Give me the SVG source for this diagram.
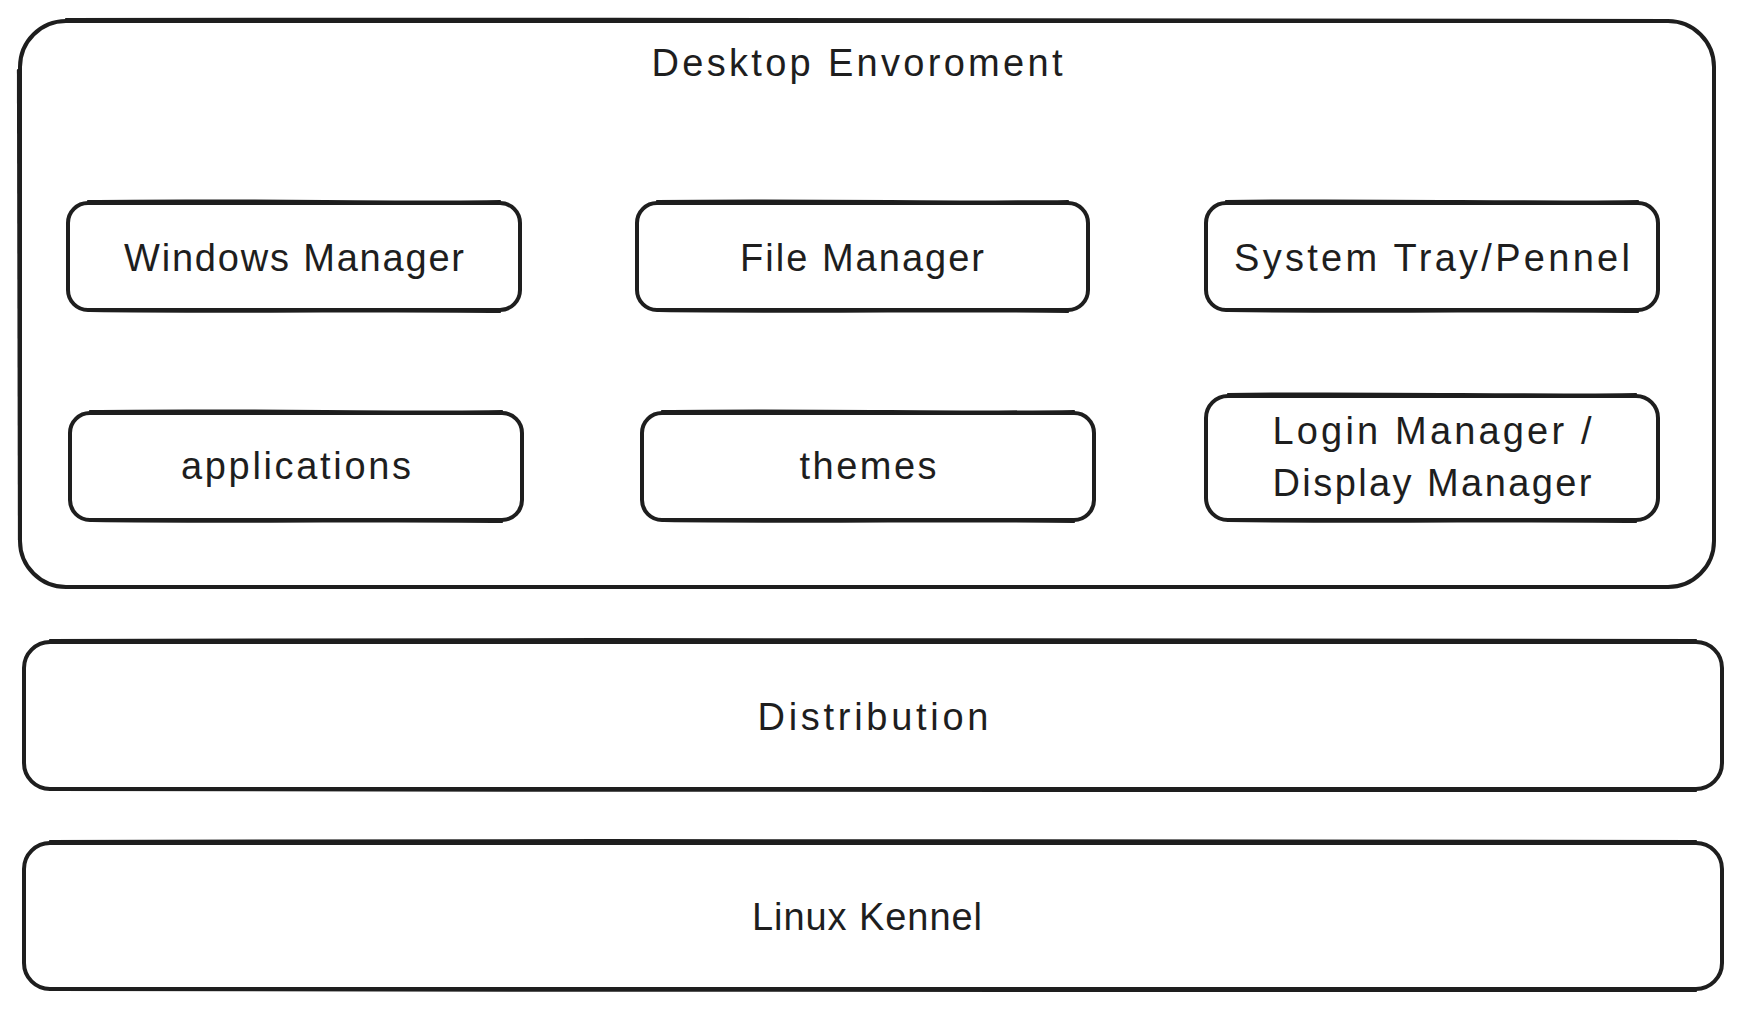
<svg xmlns="http://www.w3.org/2000/svg" width="1744" height="1010" viewBox="0 0 1744 1010">
<style>
.box{fill:#ffffff;stroke:#1e1e1e;stroke-width:4;stroke-linejoin:round}
.sk{fill:none;stroke:#1e1e1e;stroke-width:2.2;stroke-linecap:round}
.lbl{font-family:"Liberation Sans","DejaVu Sans",sans-serif;font-size:38px;fill:#1e1e1e;text-anchor:middle}
</style>
<rect width="1744" height="1010" fill="#ffffff"/>
<g id="desktop-environment">
<rect class="box" x="20" y="21" width="1694" height="566" rx="46"/>
<path class="sk" d="M66 19 C600 17 1200 22 1668 20"/>
<path class="sk" d="M18 70 C17 250 19 420 19 540"/>
<text class="lbl" x="857" y="76" textLength="411" lengthAdjust="spacing">Desktop Envoroment</text>
</g>
<g id="windows-manager">
<rect class="box" x="68" y="203" width="452" height="107" rx="20"/>
<path class="sk" d="M88 201 C250 199 400 203 500 201"/>
<path class="sk" d="M90 311 C250 313 400 310 500 312"/>
<text class="lbl" x="294" y="271" textLength="340" lengthAdjust="spacing">Windows Manager</text>
</g>
<g id="file-manager">
<rect class="box" x="637" y="203" width="451" height="107" rx="20"/>
<path class="sk" d="M657 201 C820 199 960 203 1068 201"/>
<path class="sk" d="M659 311 C820 313 960 310 1068 312"/>
<text class="lbl" x="862" y="271" textLength="244" lengthAdjust="spacing">File Manager</text>
</g>
<g id="system-tray">
<rect class="box" x="1206" y="203" width="452" height="107" rx="20"/>
<path class="sk" d="M1226 201 C1390 199 1530 203 1638 201"/>
<path class="sk" d="M1228 311 C1390 313 1530 310 1638 312"/>
<text class="lbl" x="1432" y="271" textLength="396" lengthAdjust="spacing">System Tray/Pennel</text>
</g>
<g id="applications">
<rect class="box" x="70" y="413" width="452" height="107" rx="20"/>
<path class="sk" d="M90 411 C250 409 400 413 502 411"/>
<path class="sk" d="M92 521 C250 523 400 520 502 522"/>
<text class="lbl" x="296" y="479" textLength="230" lengthAdjust="spacing">applications</text>
</g>
<g id="themes">
<rect class="box" x="642" y="413" width="452" height="107" rx="20"/>
<path class="sk" d="M662 411 C820 409 960 413 1074 411"/>
<path class="sk" d="M664 521 C820 523 960 520 1074 522"/>
<text class="lbl" x="868" y="479" textLength="137" lengthAdjust="spacing">themes</text>
</g>
<g id="login-display-manager">
<rect class="box" x="1206" y="396" width="452" height="124" rx="22"/>
<path class="sk" d="M1228 394 C1390 392 1530 396 1636 394"/>
<path class="sk" d="M1228 521 C1390 523 1530 520 1636 522"/>
<text class="lbl" x="1432" y="444" textLength="319" lengthAdjust="spacing">Login Manager /</text>
<text class="lbl" x="1432" y="496" textLength="319" lengthAdjust="spacing">Display Manager</text>
</g>
<g id="distribution">
<rect class="box" x="24" y="642" width="1698" height="147" rx="26"/>
<path class="sk" d="M50 640 C600 637 1200 642 1696 640"/>
<path class="sk" d="M50 790 C600 792 1200 789 1696 791"/>
<text class="lbl" x="873" y="730" textLength="231" lengthAdjust="spacing">Distribution</text>
</g>
<g id="linux-kennel">
<rect class="box" x="24" y="843" width="1698" height="146" rx="26"/>
<path class="sk" d="M50 841 C600 838 1200 843 1696 841"/>
<path class="sk" d="M50 990 C600 992 1200 989 1696 991"/>
<text class="lbl" x="867" y="930" textLength="230" lengthAdjust="spacing">Linux Kennel</text>
</g>
<g id="connectors"></g>
</svg>
